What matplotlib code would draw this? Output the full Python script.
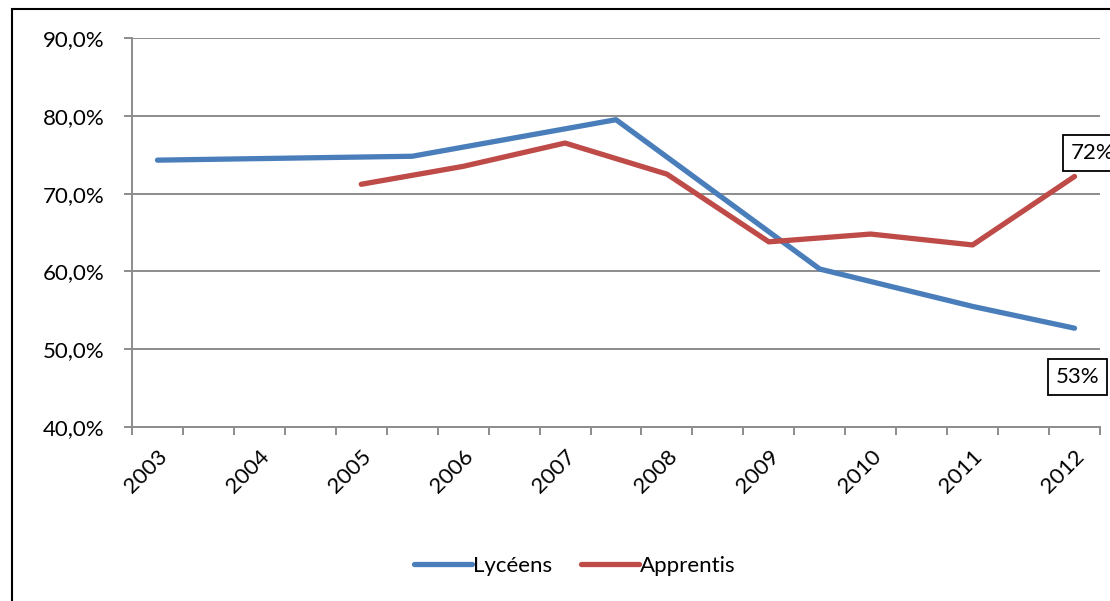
import matplotlib.pyplot as plt
from matplotlib.patches import Rectangle

plt.rcParams['font.family'] = ['Lato', 'DejaVu Sans']

# 19 category slots, year labels on every other slot
years = ['2003', '2004', '2005', '2006', '2007', '2008', '2009', '2010', '2011', '2012']
n_slots = 19

# Lycéens
lyc_slots = [0, 5, 9, 13, 16, 18]
lyc_vals = [74.3, 74.8, 79.5, 60.3, 55.5, 52.7]

# Apprentis
app_slots = [4, 6, 8, 10, 12, 14, 16, 18]
app_vals = [71.2, 73.5, 76.5, 72.5, 63.8, 64.8, 63.4, 72.2]

blue = '#4A7EBB'
red = '#BE4B48'
grid_col = '#8C8C8C'
fs = 16

W, H = 1110, 601
fig = plt.figure(figsize=(W / 100, H / 100), dpi=100)
ax = fig.add_axes([132 / W, 1 - 427 / H, (1100 - 132) / W, (427 - 38) / H])

ax.plot([s + 0.5 for s in lyc_slots], lyc_vals, color=blue, lw=3.8,
        solid_capstyle='round', solid_joinstyle='round', label='Lycéens', zorder=3)
ax.plot([s + 0.5 for s in app_slots], app_vals, color=red, lw=3.8,
        solid_capstyle='round', solid_joinstyle='round', label='Apprentis', zorder=3)

ax.set_xlim(0, n_slots)
ax.set_ylim(40, 90)
ax.set_yticks(range(40, 91, 10))
ax.set_yticklabels([f'{v},0%' for v in range(40, 91, 10)], fontsize=fs)
ax.yaxis.grid(True, color=grid_col, lw=1.4)
ax.set_axisbelow(True)

ax.set_xticks(range(n_slots + 1))
ax.set_xticklabels([])
ax.tick_params(axis='x', length=6, width=1.4, color=grid_col)
ax.tick_params(axis='y', length=6, width=1.4, color=grid_col, pad=14)
for sp in ['top', 'right']:
    ax.spines[sp].set_visible(False)
for sp in ['left', 'bottom']:
    ax.spines[sp].set_color(grid_col)
    ax.spines[sp].set_linewidth(1.4)

# year labels, rotated
for i, y in enumerate(years):
    ax.annotate(y, xy=(2 * i + 0.5, 40), xycoords='data',
                xytext=(5, -19), textcoords='offset points',
                rotation=45, ha='right', va='center', rotation_mode='anchor',
                fontsize=fs, annotation_clip=False)

# data labels on last points
box = dict(boxstyle='square,pad=0.35', fc='white', ec='black', lw=1.3)
ax.annotate('72%', xy=(app_slots[-1] + 0.5, app_vals[-1]),
            xytext=(13, 17), textcoords='offset points',
            ha='center', va='center', fontsize=fs, bbox=box, annotation_clip=False)
ax.annotate('53%', xy=(lyc_slots[-1] + 0.5, lyc_vals[-1]),
            xytext=(2, -35), textcoords='offset points',
            ha='center', va='center', fontsize=fs, bbox=box, annotation_clip=False)

fig.legend(loc='center', bbox_to_anchor=(575 / W, 1 - 566 / H), ncol=2,
           frameon=False, fontsize=fs, handlelength=2.6, handletextpad=0.05,
           columnspacing=1.3)

fig.patches.append(Rectangle((12 / W, -0.1), 1.2, 1.1 - 9 / H, transform=fig.transFigure,
                             fill=False, ec='black', lw=1.5))

fig.savefig('out.png', dpi=100)
